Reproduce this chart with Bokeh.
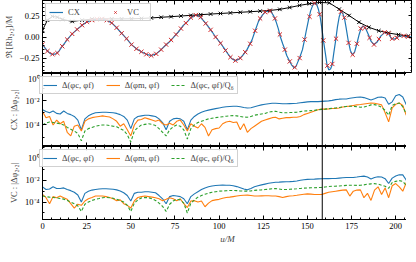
from bokeh.plotting import figure
from bokeh.layouts import column
from bokeh.models import (Range1d, LinearAxis, LogAxis, SingleIntervalTicker, FixedTicker,
                          CustomJSTickFormatter, CustomLabelingPolicy, Legend, LegendItem, Span)
from bokeh.embed import file_html
from bokeh.resources import INLINE

# ---------------- data ----------------
t_peak = 158.4

# CX real part (blue line)
u_cx = [0, 2.8, 4.7, 5.6, 7.5, 9.3, 11.2, 14, 16.8, 19.6, 22.4, 25.2, 28, 30.8, 33.6, 36.4, 39.2, 42,
        44.8, 47.6, 50.4, 53.2, 56, 58.8, 61.6, 64.4, 66.3, 69.1, 71.9, 74.7, 77.5, 79.4, 82.2, 84,
        86.8, 89, 91.5, 94.3, 96.2, 98, 100.8, 102.7, 105, 107, 109.2, 111.5, 113.5, 115.8, 118.6,
        120.4, 122.3, 124.5, 126.3, 127.9, 129.5, 131, 132.2, 133.5, 134.7, 136, 136.9, 138.3, 139.7,
        141, 142.5, 143.5, 144.3, 145.7, 147.2, 148.3, 149.4, 150.6, 151.8, 153, 154.2, 155.2, 156.2,
        157.2, 158.2, 159.2, 160.2, 161.1, 162.1, 163.1, 164, 165, 166, 167, 168, 169, 170, 171, 172,
        173, 174.3, 175.5, 176.7, 178, 179.3, 180.5, 181.7, 183, 184.5, 186, 187.7, 189.5, 191.5,
        193.8, 196, 197.6, 199.5, 201.5, 204, 206.5, 209]
cx_re = [-0.09, -0.167, -0.20, -0.205, -0.20, -0.167, -0.11, -0.03, 0.037, 0.09, 0.14, 0.18, 0.20,
         0.213, 0.215, 0.20, 0.167, 0.11, 0.044, -0.02, -0.09, -0.14, -0.175, -0.205, -0.22, -0.20,
         -0.167, -0.11, -0.056, 0.007, 0.074, 0.13, 0.185, 0.23, 0.26, 0.245, 0.185, 0.11, 0.056, 0.0,
         -0.074, -0.13, -0.20, -0.255, -0.28, -0.26, -0.215, -0.15, -0.037, 0.074, 0.185, 0.26, 0.30,
         0.31, 0.30, 0.245, 0.185, 0.10, 0.0, -0.08, -0.13, -0.22, -0.28, -0.33, -0.365, -0.35, -0.31,
         -0.24, -0.15, -0.04, 0.08, 0.20, 0.31, 0.375, 0.40, 0.39, 0.33, 0.24, 0.10, -0.06, -0.20,
         -0.33, -0.39, -0.38, -0.33, -0.18, -0.04, 0.12, 0.24, 0.30, 0.28, 0.22, 0.10, -0.03, -0.16,
         -0.21, -0.18, -0.08, 0.03, 0.11, 0.13, 0.10, 0.03, -0.05, -0.09, -0.06, 0.01, 0.055, 0.04,
         -0.02, -0.025, 0.005, 0.015, 0.005, 0.0]

# VC real part (red markers)
u_vc = [0, 2.8, 5.6, 8.4, 11.2, 14, 16.8, 19.6, 22.4, 25.2, 28, 30.8, 33.6, 36.4, 39.2, 42, 44.8,
        47.6, 50.4, 53.2, 56, 58.8, 61.6, 64.4, 67.2, 70, 72.8, 75.6, 78.4, 81.2, 84, 86.8, 89.6,
        92.4, 95.2, 98, 100.8, 103.6, 106.4, 109.2, 112, 114.8, 117.6, 120.4, 123.2, 126, 128.8,
        131.6, 134.4, 137.2, 140, 142.8, 145.6, 148.4, 151.2, 154, 156.9, 159, 161.3, 164.1, 166.2,
        169, 170.9, 173.3, 175.6, 178, 180.2, 182.6, 185.2, 187.7, 190.5, 193.7, 196, 198, 200.7,
        204.5, 207]
vc_re = [-0.09, -0.167, -0.205, -0.19, -0.11, -0.03, 0.037, 0.09, 0.14, 0.18, 0.20, 0.213, 0.215,
         0.20, 0.167, 0.11, 0.044, -0.02, -0.09, -0.14, -0.175, -0.205, -0.22, -0.20, -0.15, -0.09,
         -0.035, 0.03, 0.10, 0.165, 0.23, 0.26, 0.235, 0.16, 0.085, 0.0, -0.074, -0.16, -0.24, -0.28,
         -0.25, -0.18, -0.08, 0.074, 0.22, 0.295, 0.305, 0.22, 0.03, -0.15, -0.29, -0.36, -0.25,
         -0.03, 0.24, 0.40, 0.27, -0.04, -0.34, -0.32, -0.02, 0.30, 0.23, -0.07, -0.21, -0.08, 0.10,
         0.11, -0.01, -0.09, -0.025, 0.055, 0.04, -0.02, -0.01, 0.013, 0.004]

# amplitude (black line with markers)
u_amp = [0, 2.8, 5.6, 8.4, 11.2, 16.8, 22.4, 28, 33.6, 39.2, 44.8, 50.4, 56, 61.6, 67.2, 72.8, 78.4,
         84, 89.6, 95.2, 100.8, 106.4, 112, 117.6, 123.2, 128.8, 134.4, 140, 145.6, 151.2, 156.8,
         162.4, 168, 173.6, 179.2, 184.8, 190.4, 196, 201.6, 207.2]
amp = [0.08, 0.20, 0.245, 0.235, 0.21, 0.185, 0.20, 0.212, 0.215, 0.215, 0.215, 0.216, 0.22, 0.226,
       0.234, 0.241, 0.249, 0.257, 0.265, 0.272, 0.279, 0.286, 0.293, 0.30, 0.307, 0.315, 0.328, 0.35,
       0.375, 0.395, 0.41, 0.405, 0.33, 0.255, 0.175, 0.115, 0.074, 0.047, 0.028, 0.012]

# phase differences, log10 values on the grid u = 0, 2, ..., 208
u_d = list(range(0, 210, 2))
lg_cx_c = [-2.75, -2.9, -3.0, -2.85, -3.05, -3.1, -2.85, -3.05, -3.15, -3.3,
           -3.6, -4.4, -3.5, -3.25, -3.1, -3.0, -2.97, -2.95, -2.95, -2.97,
           -3.0, -3.05, -3.15, -3.3, -3.6, -4.3, -3.5, -3.3, -3.25, -3.2,
           -3.2, -3.25, -3.3, -3.5, -3.8, -4.4, -3.7, -3.5, -3.45, -3.5,
           -3.7, -4.4, -3.6, -3.3, -3.1, -2.95, -2.85, -2.78, -2.72, -2.66,
           -2.6, -2.55, -2.5, -2.48, -2.46, -2.46, -2.5, -2.56, -2.6, -2.58,
           -2.5, -2.42, -2.35, -2.3, -2.25, -2.22, -2.22, -2.24, -2.26, -2.26,
           -2.25, -2.24, -2.22, -2.18, -2.14, -2.1, -2.08, -2.08, -2.08, -2.06,
           -2.04, -2.02, -1.98, -1.92, -1.88, -1.86, -1.86, -1.8, -1.76, -1.72,
           -1.7, -1.75, -1.85, -1.95, -1.85, -1.72, -1.7, -1.78, -2.3, -2.1,
           -1.6, -1.5, -1.7, -2.35, -1.9]
lg_cx_m = [-2.9, -3.4, -3.3, -4.0, -3.6, -3.9, -3.7, -4.6, -4.9, -4.1,
           -4.0, -4.5, -3.7, -3.5, -3.4, -3.35, -3.3, -3.25, -3.3, -3.35,
           -3.5, -3.7, -4.1, -3.9, -4.4, -4.9, -4.0, -3.6, -3.55, -3.4,
           -3.5, -3.6, -3.7, -3.6, -3.9, -4.0, -3.85, -4.0, -3.7, -3.6,
           -4.0, -4.5, -3.9, -4.1, -4.25, -3.9, -4.2, -4.9, -4.4, -4.3,
           -4.25, -3.9, -3.75, -3.7, -3.8, -3.75, -4.4, -3.9, -4.6, -4.3,
           -4.1, -3.9, -3.7, -3.6, -3.5, -3.4, -3.36, -3.5, -3.45, -3.4,
           -3.4, -3.36, -3.36, -3.3, -3.15, -3.05, -2.95, -2.85, -2.75, -2.7,
           -2.7, -2.68, -2.65, -2.64, -2.6, -2.52, -2.48, -2.45, -2.4, -2.35,
           -2.32, -2.28, -2.24, -2.2, -2.22, -2.28, -2.35, -3.0, -3.75, -2.6,
           -2.3, -2.2, -2.4, -3.2, -2.2]
lg_cx_q = [-4.0, -3.85, -3.75, -3.8, -3.85, -3.9, -4.0, -4.2, -4.35, -4.5,
           -4.7, -5.3, -4.5, -4.3, -4.2, -4.1, -4.05, -4.0, -4.0, -4.05,
           -4.1, -4.15, -4.3, -4.45, -4.8, -5.4, -4.5, -4.2, -4.0, -3.95,
           -3.9, -3.95, -4.05, -4.3, -4.6, -4.9, -4.4, -4.15, -4.0, -4.1,
           -4.4, -5.15, -4.3, -4.0, -3.8, -3.7, -3.6, -3.5, -3.45, -3.4,
           -3.36, -3.32, -3.28, -3.25, -3.23, -3.25, -3.3, -3.35, -3.36, -3.3,
           -3.2, -3.15, -3.1, -3.05, -2.95, -2.9, -2.88, -2.95, -3.0, -3.0,
           -2.98, -2.97, -2.95, -2.9, -2.86, -2.84, -2.82, -2.8, -2.75, -2.72,
           -2.7, -2.66, -2.63, -2.6, -2.56, -2.52, -2.48, -2.46, -2.47, -2.5,
           -2.54, -2.52, -2.45, -2.35, -2.33, -2.4, -2.55, -2.8, -3.2, -2.4,
           -2.25, -2.2, -2.5, -3.1, -3.3]
lg_vc_c = [-2.6, -2.85, -2.8, -2.6, -2.75, -2.75, -2.7, -2.85, -2.95, -3.1,
           -3.35, -4.0, -3.2, -3.0, -2.9, -2.85, -2.8, -2.78, -2.78, -2.8,
           -2.83, -2.88, -2.98, -3.15, -3.4, -3.9, -3.2, -3.1, -3.1, -3.05,
           -3.05, -3.1, -3.15, -3.4, -3.7, -4.15, -3.5, -3.4, -3.45, -3.5,
           -3.7, -4.15, -3.5, -3.25, -3.05, -2.85, -2.7, -2.6, -2.52, -2.48,
           -2.45, -2.44, -2.45, -2.46, -2.5, -2.58, -2.68, -2.8, -2.88, -2.75,
           -2.6, -2.5, -2.42, -2.35, -2.28, -2.22, -2.18, -2.17, -2.15, -2.13,
           -2.12, -2.1, -2.06, -2.0, -1.95, -1.92, -1.9, -1.89, -1.87, -1.86,
           -1.85, -1.85, -1.84, -1.84, -1.8, -1.77, -1.75, -1.75, -1.74, -1.7,
           -1.65, -1.62, -1.7, -1.88, -1.75, -1.68, -1.7, -1.85, -2.3, -1.8,
           -1.6, -1.5, -1.5, -2.0, -2.7]
lg_vc_m = [-3.3, -3.6, -4.15, -3.5, -3.6, -3.45, -3.6, -3.75, -4.15, -4.55,
           -4.2, -4.3, -3.9, -3.7, -3.58, -3.45, -3.45, -3.45, -3.5, -3.58,
           -3.7, -3.87, -3.8, -4.15, -4.3, -4.55, -3.9, -3.58, -3.5, -3.45,
           -3.5, -3.55, -3.6, -3.7, -3.87, -3.75, -3.6, -3.7, -3.87, -3.7,
           -4.15, -4.5, -3.9, -3.87, -4.0, -3.9, -4.43, -4.1, -3.87, -3.8,
           -3.75, -3.65, -3.58, -3.55, -3.5, -3.45, -3.4, -3.38, -3.36, -3.4,
           -3.45, -3.45, -3.43, -3.42, -3.42, -3.45, -3.45, -3.5, -3.58, -3.5,
           -3.45, -3.42, -3.38, -3.33, -3.28, -3.25, -3.27, -3.3, -3.3, -3.3,
           -3.2, -3.1, -3.05, -3.0, -2.95, -2.9, -2.88, -3.45, -3.0, -2.9,
           -2.88, -3.6, -3.2, -3.85, -2.9, -2.6, -3.3, -2.7, -3.6, -2.5,
           -2.3, -2.6, -3.0, -2.2, -3.6]
lg_vc_q = [-3.45, -3.5, -3.55, -3.58, -3.62, -3.68, -3.73, -3.85, -4.0, -4.15,
           -4.35, -4.86, -4.2, -4.0, -3.85, -3.75, -3.68, -3.6, -3.58, -3.6,
           -3.65, -3.75, -3.85, -4.0, -4.3, -4.86, -4.1, -3.8, -3.62, -3.58,
           -3.6, -3.7, -3.85, -4.1, -4.4, -4.86, -4.2, -3.9, -3.75, -3.8,
           -4.1, -5.0, -4.1, -3.8, -3.55, -3.4, -3.28, -3.18, -3.1, -3.05,
           -3.0, -2.98, -2.96, -2.94, -2.93, -2.95, -2.98, -3.0, -3.0, -2.97,
           -2.93, -2.9, -2.88, -2.85, -2.82, -2.78, -2.75, -2.8, -2.85, -2.85,
           -2.83, -2.8, -2.78, -2.75, -2.72, -2.7, -2.69, -2.69, -2.67, -2.65,
           -2.62, -2.58, -2.55, -2.54, -2.52, -2.5, -2.47, -2.46, -2.46, -2.47,
           -2.46, -2.42, -2.36, -2.33, -2.31, -2.35, -2.45, -2.55, -2.74, -2.2,
           -2.1, -2.03, -2.1, -2.5, -3.5]

legend_top = ["CX", "VC"]
legend_phase = ["Δ(φc, φf)", "Δ(φm, φf)", "Δ(φc, φf)/Q₆"]
ylabels = ["ℜ [Rh₂,₂]/M", "CX : |Δφ₂,₂|", "VC : |Δφ₂,₂|"]
xlabel = "u/M"

# ---------------- styling ----------------
FONT = "Liberation Serif"
BLUE, ORANGE, GREEN, RED = "#1f77b4", "#ff7f0e", "#2ca02c", "#d62728"
LEFT = 34
FW = 370
FH = 73

x_range = Range1d(0, 209.5)

lin_fmt = CustomJSTickFormatter(code="""
if (Math.abs(tick) < 1e-9) { return '0.00'; }
return (tick < 0 ? '\u2212' : '') + Math.abs(tick).toFixed(2);
""")
log_fmt = CustomJSTickFormatter(code="""
const e = Math.round(Math.log10(tick));
const s = {'-':'\u207b','0':'\u2070','1':'\u00b9','2':'\u00b2','3':'\u00b3','4':'\u2074','5':'\u2075','6':'\u2076','7':'\u2077','8':'\u2078','9':'\u2079'};
return '10' + String(e).split('').map(c => s[c]).join('');
""")
no_labels = CustomLabelingPolicy(code="return [];")


def style_axis(ax, labels):
    ax.major_tick_in = 4
    ax.major_tick_out = 0
    ax.minor_tick_in = 2
    ax.minor_tick_out = 0
    ax.axis_line_color = "black"
    ax.major_tick_line_color = "black"
    ax.minor_tick_line_color = "black"
    ax.major_label_text_font = FONT
    ax.major_label_text_color = "black"
    if labels:
        ax.major_label_text_font_size = "8.5px"
        ax.major_label_standoff = 3
    else:
        ax.major_label_policy = no_labels
        ax.major_label_text_font_size = "0px"
        ax.major_label_standoff = 0


def make_panel(yr, ylog, ylabel, show_x):
    p = figure(frame_width=FW, frame_height=FH, x_range=x_range, y_range=yr,
               y_axis_type="log" if ylog else "linear",
               output_backend="svg", toolbar_location=None,
               min_border_left=LEFT, min_border_right=0, min_border_top=0, min_border_bottom=0)
    p.xgrid.visible = False
    p.ygrid.visible = False
    p.outline_line_color = "black"
    p.outline_line_width = 1
    xt = SingleIntervalTicker(interval=25, num_minor_ticks=5)
    if ylog:
        yt = FixedTicker(ticks=[1e-4, 1e-2, 1.0], minor_ticks=[1e-5, 1e-3, 1e-1, 10.0])
        yf = log_fmt
        right = LogAxis(ticker=yt, formatter=yf)
    else:
        yt = SingleIntervalTicker(interval=0.25, num_minor_ticks=5)
        yf = lin_fmt
        right = LinearAxis(ticker=yt, formatter=yf)
    bx = p.below[0]
    bx.ticker = xt
    style_axis(bx, show_x)
    ly = p.left[0]
    ly.ticker = yt
    ly.formatter = yf
    style_axis(ly, True)
    ly.axis_label = ylabel
    ly.axis_label_text_font = FONT
    ly.axis_label_text_font_size = "8.5px"
    ly.axis_label_text_font_style = "normal"
    ly.axis_label_standoff = 3
    style_axis(right, False)
    p.add_layout(right, "right")
    top = LinearAxis(ticker=xt)
    style_axis(top, False)
    p.add_layout(top, "above")
    if show_x:
        bx.axis_label = xlabel
        bx.axis_label_text_font = FONT
        bx.axis_label_text_font_size = "9px"
        bx.axis_label_text_font_style = "italic"
        bx.axis_label_standoff = 2
    p.add_layout(Span(location=t_peak, dimension="height", line_color="black", line_width=1))
    return p


def style_legend(lg):
    lg.orientation = "horizontal"
    lg.location = "top_left"
    lg.margin = 3
    lg.padding = 3
    lg.spacing = 12
    lg.glyph_width = 14
    lg.glyph_height = 8
    lg.label_height = 8
    lg.label_standoff = 5
    lg.label_text_font = FONT
    lg.label_text_font_size = "8.5px"
    lg.border_line_color = "#cccccc"
    lg.border_line_alpha = 0.9
    lg.background_fill_alpha = 0.85


# ---- top panel ----
p1 = make_panel(Range1d(-0.433, 0.433), False, ylabels[0], False)
r_cx = p1.line(u_cx, cx_re, line_color=BLUE, line_width=1.2)
p1.line(u_amp, amp, line_color="black", line_width=1)
p1.scatter(u_amp, amp, marker="x", size=5, line_color="black", line_width=1)
r_vc = p1.scatter(u_vc, vc_re, marker="x", size=6, line_color=RED, line_width=1)
lg1 = Legend(items=[LegendItem(label=legend_top[0], renderers=[r_cx]),
                    LegendItem(label=legend_top[1], renderers=[r_vc])])
style_legend(lg1)
lg1.spacing = 20
p1.add_layout(lg1)


def phase_panel(yr, ylabel, lc, lm, lq, show_x):
    p = make_panel(yr, True, ylabel, show_x)
    ra = p.line(u_d, [10 ** v for v in lc], line_color=BLUE, line_width=1.1)
    rb = p.line(u_d, [10 ** v for v in lm], line_color=ORANGE, line_width=1.1)
    rc = p.line(u_d, [10 ** v for v in lq], line_color=GREEN, line_width=1.1, line_dash="3 2")
    lg = Legend(items=[LegendItem(label=legend_phase[0], renderers=[ra]),
                       LegendItem(label=legend_phase[1], renderers=[rb]),
                       LegendItem(label=legend_phase[2], renderers=[rc])])
    style_legend(lg)
    p.add_layout(lg)
    return p


p2 = phase_panel(Range1d(10 ** -5.77, 10 ** 0.23), ylabels[1], lg_cx_c, lg_cx_m, lg_cx_q, False)
p3 = phase_panel(Range1d(10 ** -5.6, 10 ** 1.1), ylabels[2], lg_vc_c, lg_vc_m, lg_vc_q, True)

layout = column(p1, p2, p3, spacing=0)
open("out.html", "w").write(file_html(layout, INLINE))
